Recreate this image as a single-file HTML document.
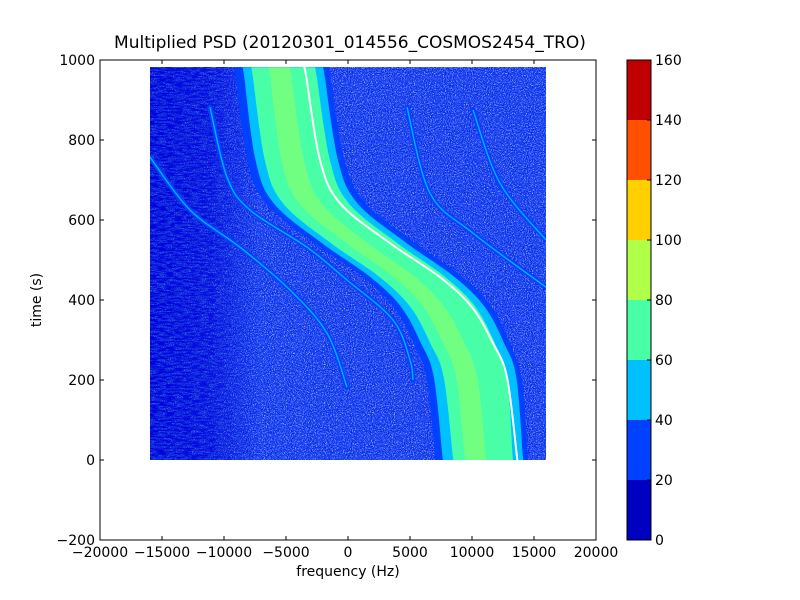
<!DOCTYPE html>
<html><head><meta charset="utf-8">
<style>
html,body{margin:0;padding:0;background:#fff;}
svg{display:block;font-family:"DejaVu Sans","Liberation Sans",sans-serif;}
</style></head>
<body>
<svg id="chart" width="800" height="600" viewBox="0 0 800 600">
<defs>
  <filter id="noise" x="0" y="0" width="100%" height="100%">
    <feTurbulence type="fractalNoise" baseFrequency="0.95" numOctaves="1" seed="3"/>
    <feColorMatrix type="matrix" values="0 0 0 0 0  0 0 0 0 0.02  0 0 0 0 0.75  5 0 0 0 -2.2"/>
  </filter>
  <filter id="noise2" x="0" y="0" width="100%" height="100%">
    <feTurbulence type="fractalNoise" baseFrequency="0.9" numOctaves="1" seed="21"/>
    <feColorMatrix type="matrix" values="0 0 0 0 0.3  0 0 0 0 0.42  0 0 0 0 1  5 0 0 0 -2.4"/>
  </filter>
  <filter id="stripes" x="0" y="0" width="100%" height="100%">
    <feTurbulence type="fractalNoise" baseFrequency="0.12 0.6" numOctaves="2" seed="7"/>
    <feColorMatrix type="matrix" values="0 0 0 0 0  0 0 0 0 0  0 0 0 0 0.72  6 0 0 0 -2.6"/>
  </filter>
  <linearGradient id="fadeGrad" x1="0" x2="1" y1="0" y2="0">
    <stop offset="0" stop-color="#fff" stop-opacity="1"/>
    <stop offset="0.55" stop-color="#fff" stop-opacity="0.8"/>
    <stop offset="1" stop-color="#fff" stop-opacity="0"/>
  </linearGradient>
  <mask id="leftMask"><rect x="150" y="67" width="110" height="393" fill="url(#fadeGrad)"/></mask>
  <clipPath id="dataClip"><rect x="150" y="67" width="396" height="393"/></clipPath>
</defs>
<text x="350" y="48" text-anchor="middle" font-size="17">Multiplied PSD (20120301_014556_COSMOS2454_TRO)</text>
<g id="plot"></g>
<g id="axes"></g>
<text x="348" y="576" text-anchor="middle" font-size="14">frequency (Hz)</text>
<text transform="translate(41,300) rotate(-90)" text-anchor="middle" font-size="14">time (s)</text>
<g id="cbar"></g>
</svg>
<script>
// ---- data ----
const xTicks = [-20000,-15000,-10000,-5000,0,5000,10000,15000,20000];
const yTicks = [-200,0,200,400,600,800,1000];
const cbLevels = [0,20,40,60,80,100,120,140,160];
const cbColors = ["#0000c0","#0040ff","#00c0ff","#48ffa8","#b0ff48","#ffd000","#ff5000","#c00000"];
const dataFreqRange = [-16000,16000];
const dataTimeRange = [0,982];
// central chirp (white ridge)
const ridgeTime = [982,962,750,642,542,457,382,292,207,7,0];
const ridgeFreq = [-3550,-3390,-2260,-645,3390,7420,10000,11690,12820,13630,13650];
// band edge offsets from ridge (Hz)
const blueLeft  = [-5700,-5700,-5850,-6000,-6100,-6200,-6300,-6400,-6500,-6600,-6600];
const cyanLeft  = [-5000,-5000,-5200,-5350,-5480,-5600,-5700,-5800,-5900,-6000,-6000];
const greenLeft = [-4300,-4300,-4450,-4600,-4750,-4850,-4950,-5050,-5100,-5160,-5160];
const greenRight= [850,850,800,700,600,450,300,150,0,-350,-350];
const cyanRight = [1500,1500,1450,1400,1350,1200,1050,900,750,480,480];
const blueRight = [1950,1950,1950,2050,2050,1850,1600,1350,1150,890,890];
const coreLeft  = [-2900,-2900,-3100,-3300,-3500,-3700,-3900,-4000,-4100,-4200,-4200];
const coreRight = [-1200,-1200,-1300,-1500,-1800,-2000,-2200,-2300,-2400,-2500,-2500];
// faint chirp lines
const chirp1Freq = [-15968,-12742,-8710,-4677,-1694,-81];
const chirp1Time = [757,625,532,425,317,182];
const chirp2Freq = [-11129,-9758,-7903,-3306,-81,3629,5000,5242];
const chirp2Time = [882,707,625,532,450,350,250,200];
const chirp3Freq = [4758,6613,10081,15968];
const chirp3Time = [882,667,567,432];
const chirp4Freq = [10081,12258,15968];
const chirp4Time = [875,692,550];

// ---- axis functions ----
const X0=100,X1=596,Y0=60,Y1=540;
const sx = f => X0 + (f - (-20000)) / 40000 * (X1 - X0);
const sy = t => Y1 - (t - (-200)) / 1200 * (Y1 - Y0);
const NS="http://www.w3.org/2000/svg";
function mk(tag, attrs, parent){const e=document.createElementNS(NS,tag);for(const k in attrs)e.setAttribute(k,attrs[k]);parent.appendChild(e);return e;}

function smooth(pts, start){
  let d=start?('M'+pts[0][0].toFixed(1)+','+pts[0][1].toFixed(1)):('L'+pts[0][0].toFixed(1)+','+pts[0][1].toFixed(1));
  for(let i=0;i<pts.length-1;i++){
    const p0=pts[Math.max(0,i-1)],p1=pts[i],p2=pts[i+1],p3=pts[Math.min(pts.length-1,i+2)];
    const c1=[p1[0]+(p2[0]-p0[0])/6,p1[1]+(p2[1]-p0[1])/6];
    const c2=[p2[0]-(p3[0]-p1[0])/6,p2[1]-(p3[1]-p1[1])/6];
    d+='C'+c1[0].toFixed(1)+','+c1[1].toFixed(1)+' '+c2[0].toFixed(1)+','+c2[1].toFixed(1)+' '+p2[0].toFixed(1)+','+p2[1].toFixed(1);
  }
  return d;
}
function bandPath(offL, offR){
  const L=ridgeTime.map((t,i)=>[sx(ridgeFreq[i]+offL[i]),sy(t)]);
  const R=ridgeTime.map((t,i)=>[sx(ridgeFreq[i]+offR[i]),sy(t)]).reverse();
  return smooth(L,true)+smooth(R,false)+'Z';
}
function linePath(fr,tm){return smooth(fr.map((f,i)=>[sx(f),sy(tm[i])]),true);}

const plot=document.getElementById('plot');
const g=mk('g',{'clip-path':'url(#dataClip)'},plot);
const dx0=sx(dataFreqRange[0]), dx1=sx(dataFreqRange[1]), dy0=sy(dataTimeRange[1]), dy1=sy(dataTimeRange[0]);
let bg=mk('rect',{x:dx0,y:dy0,width:dx1-dx0,height:dy1-dy0,fill:'#2048f8'},g);


let nz2=mk('rect',{x:dx0,y:dy0,width:dx1-dx0,height:dy1-dy0,filter:'url(#noise2)'},g);


let nz=mk('rect',{x:dx0,y:dy0,width:dx1-dx0,height:dy1-dy0,filter:'url(#noise)'},g);


let lw=mk('g',{mask:'url(#leftMask)'},g);
let lsh=mk('rect',{x:dx0,y:dy0,width:110,height:dy1-dy0,fill:'#0010c8',opacity:0.45},lw);


let st=mk('rect',{x:dx0,y:dy0,width:110,height:dy1-dy0,filter:'url(#stripes)'},lw);



[[chirp1Freq,chirp1Time,'chirp-line-1'],[chirp2Freq,chirp2Time,'chirp-line-2'],[chirp3Freq,chirp3Time,'chirp-line-3'],[chirp4Freq,chirp4Time,'chirp-line-4']].forEach(c=>{
  let h=mk('path',{d:linePath(c[0],c[1]),fill:'none',stroke:'#0040ff',"stroke-width":5,"stroke-linecap":'round'},g);
  
  
  let p=mk('path',{d:linePath(c[0],c[1]),fill:'none',stroke:'#00b0ff',"stroke-width":1.4},g);
  
  
});

let b1=mk('path',{d:bandPath(blueLeft,blueRight),fill:'#0040ff'},g);


let b2=mk('path',{d:bandPath(cyanLeft,cyanRight),fill:'#00c0ff'},g);


let b3=mk('path',{d:bandPath(greenLeft,greenRight),fill:'#48ffa8'},g);


let b4=mk('path',{d:bandPath(coreLeft,coreRight),fill:'#b0ff48',opacity:0.4},g);


let rl=mk('path',{d:linePath(ridgeFreq,ridgeTime),fill:'none',stroke:'#ffffff',"stroke-width":2},g);



// ---- axes ----
const ax=document.getElementById('axes');
let fr=mk('rect',{x:X0,y:Y0,width:X1-X0,height:Y1-Y0,fill:'none',stroke:'#000',"stroke-width":1},ax);


xTicks.forEach(v=>{
  const x=sx(v);
  mk('line',{x1:x,x2:x,y1:Y1,y2:Y1-4,stroke:'#000'},ax);
  mk('line',{x1:x,x2:x,y1:Y0,y2:Y0+4,stroke:'#000'},ax);
  let t=mk('text',{x:x,y:Y1+17,"text-anchor":'middle',"font-size":14},ax);
  t.textContent=(v<0?'\u2212':'')+Math.abs(v);
  
  
});
yTicks.forEach(v=>{
  const y=sy(v);
  mk('line',{x1:X0,x2:X0+4,y1:y,y2:y,stroke:'#000'},ax);
  mk('line',{x1:X1,x2:X1-4,y1:y,y2:y,stroke:'#000'},ax);
  let t=mk('text',{x:X0-5,y:y+5,"text-anchor":'end',"font-size":14},ax);
  t.textContent=(v<0?'\u2212':'')+Math.abs(v);
  
  
});

// ---- colorbar ----
const cb=document.getElementById('cbar');
const CX=627,CW=24;
const cy = v => Y1 - (v - cbLevels[0])/(cbLevels[cbLevels.length-1]-cbLevels[0])*(Y1-Y0);
cbColors.forEach((c,i)=>{
  let r=mk('rect',{x:CX,y:cy(cbLevels[i+1]),width:CW,height:cy(cbLevels[i])-cy(cbLevels[i+1]),fill:c},cb);
  
  
});
mk('rect',{x:CX,y:Y0,width:CW,height:Y1-Y0,fill:'none',stroke:'#000'},cb);
cbLevels.forEach(v=>{
  const y=cy(v);
  mk('line',{x1:CX+CW,x2:CX+CW-4,y1:y,y2:y,stroke:'#000'},cb);
  let t=mk('text',{x:CX+CW+4,y:y+5,"font-size":14},cb);
  t.textContent=v;
  
  
});
</script>
</body></html>
